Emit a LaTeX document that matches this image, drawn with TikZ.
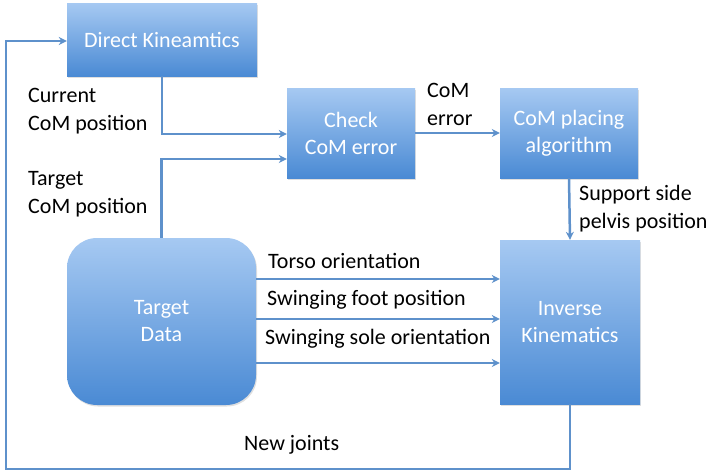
\documentclass[tikz,border=0pt]{standalone}
\usepackage{fontspec}
\setmainfont{Carlito}
\usetikzlibrary{arrows.meta,shadows}
\definecolor{boxtop}{HTML}{A6C9F2}
\definecolor{boxbot}{HTML}{4A8AD4}
\definecolor{conn}{HTML}{5E91CB}
\tikzset{
  blockbox/.style={rectangle, top color=boxtop, bottom color=boxbot, draw=none,
    text=white, align=center, font=\fontsize{22}{27}\selectfont,
    drop shadow={shadow xshift=1pt, shadow yshift=-1.5pt, opacity=0.25}},
  conn/.style={draw=conn, line width=2.5pt, -{Stealth[length=8pt,width=8pt]}},
  lbl/.style={font=\fontsize{22}{28}\selectfont, align=left, text=black, inner sep=0pt}
}
\begin{document}
\begin{tikzpicture}[x=1pt,y=-1pt]
\useasboundingbox (0,0) rectangle (711,471);
\node[blockbox, minimum width=190pt, minimum height=73pt] (dk) at (162,39.5) {Direct Kineamtics};
\node[blockbox, minimum width=128pt, minimum height=90pt] (cc) at (351,133) {Check\\CoM error};
\node[blockbox, minimum width=138pt, minimum height=90pt] (cp) at (569,133) {CoM placing\\algorithm};
\node[blockbox, minimum width=140pt, minimum height=164pt] (ik) at (570,322) {Inverse\\Kinematics};
\node[blockbox, rounded corners=30pt, minimum width=189pt, minimum height=167pt] (td) at (161.5,321.5) {Target\\Data};

\coordinate (lb) at (6,469);
\coordinate (a1) at (0,279);
\coordinate (a2) at (0,319);
\coordinate (a3) at (0,363);

\draw[conn] (dk.south) |- ([yshift=-1pt]cc.west);
\draw[conn] (td.north) |- ([yshift=-26pt]cc.west);
\draw[conn] (cc.east) -- (cp.west);
\draw[conn] (cp.south) -- (ik.north);
\draw[conn] (td.east |- a1) -- (ik.west |- a1);
\draw[conn] (td.east |- a2) -- (ik.west |- a2);
\draw[conn] (td.east |- a3) -- (ik.west |- a3);
\draw[conn] (ik.south) |- (lb) |- ([yshift=-1.5pt]dk.west);

\node[lbl, anchor=west] (l1) at (28,111) {Current\\CoM position};
\node[lbl, anchor=west] (l2) at (28,194) {Target\\CoM position};
\node[lbl, anchor=west] (l3) at (427,104) {CoM\\error};
\node[lbl, anchor=west] (l4) at (579,209) {Support side\\pelvis position};
\node[lbl, anchor=west] (l5) at (268,261) {Torso orientation};
\node[lbl, anchor=west] (l6) at (267,300) {Swinging foot position};
\node[lbl, anchor=west] (l7) at (265,339) {Swinging sole orientation};
\node[lbl, anchor=west] (l8) at (244,445) {New joints};
\end{tikzpicture}
\end{document}
